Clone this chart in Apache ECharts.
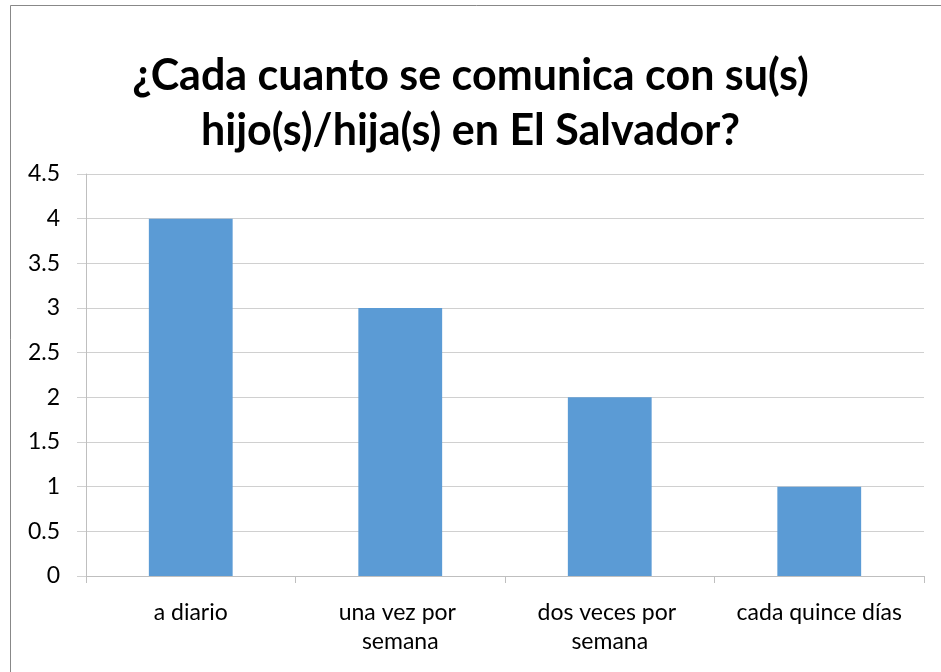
<!DOCTYPE html>
<html><head><meta charset="utf-8">
<script src="https://cdn.jsdelivr.net/npm/echarts@6/dist/echarts.min.js"></script>
<style>html,body{margin:0;padding:0;background:#fff}#c{width:941px;height:672px}</style>
</head><body><div id="c"></div>
<script>
const titleText = "¿Cada cuanto se comunica con su(s)\nhijo(s)/hija(s) en El Salvador?";
const categories = ["a diario", "una vez por semana", "dos veces por semana", "cada quince días"];
const values = [4, 3, 2, 1];
const yMin = 0, yMax = 4.5, yStep = 0.5;

const chart = echarts.init(document.getElementById('c'), null, {renderer: 'canvas'});
chart.setOption({
  animation: false,
  backgroundColor: '#fff',
  textStyle: {fontFamily: 'Lato'},
  graphic: [{
    type: 'rect', left: 8, top: 3, silent: true,
    shape: {x: 0, y: 0, width: 1000, height: 1000},
    style: {fill: 'none', stroke: '#888', lineWidth: 1}
  }],
  title: {
    text: titleText, left: 'center', top: 44,
    textStyle: {fontFamily: 'Lato', fontWeight: 'bold', fontSize: 43, lineHeight: 55, color: '#000'}
  },
  grid: {left: 86, right: 17, top: 174, bottom: 96, containLabel: false},
  xAxis: {
    type: 'category', data: categories,
    axisLine: {lineStyle: {color: '#bfbfbf'}},
    axisTick: {show: true, length: 7, lineStyle: {color: '#bfbfbf'}},
    axisLabel: {color: '#000', fontSize: 23, lineHeight: 29, margin: 22, width: 185, overflow: 'break', interval: 0}
  },
  yAxis: {
    type: 'value', min: yMin, max: yMax, interval: yStep,
    axisLine: {show: true, lineStyle: {color: '#bfbfbf'}},
    axisTick: {show: true, length: 9, lineStyle: {color: '#d0d0d0'}},
    splitLine: {lineStyle: {color: '#d0d0d0'}},
    axisLabel: {color: '#000', fontSize: 23, margin: 26}
  },
  series: [{
    type: 'bar', data: values, barWidth: '40%',
    itemStyle: {color: '#5b9bd5'}
  }]
});
</script></body></html>
